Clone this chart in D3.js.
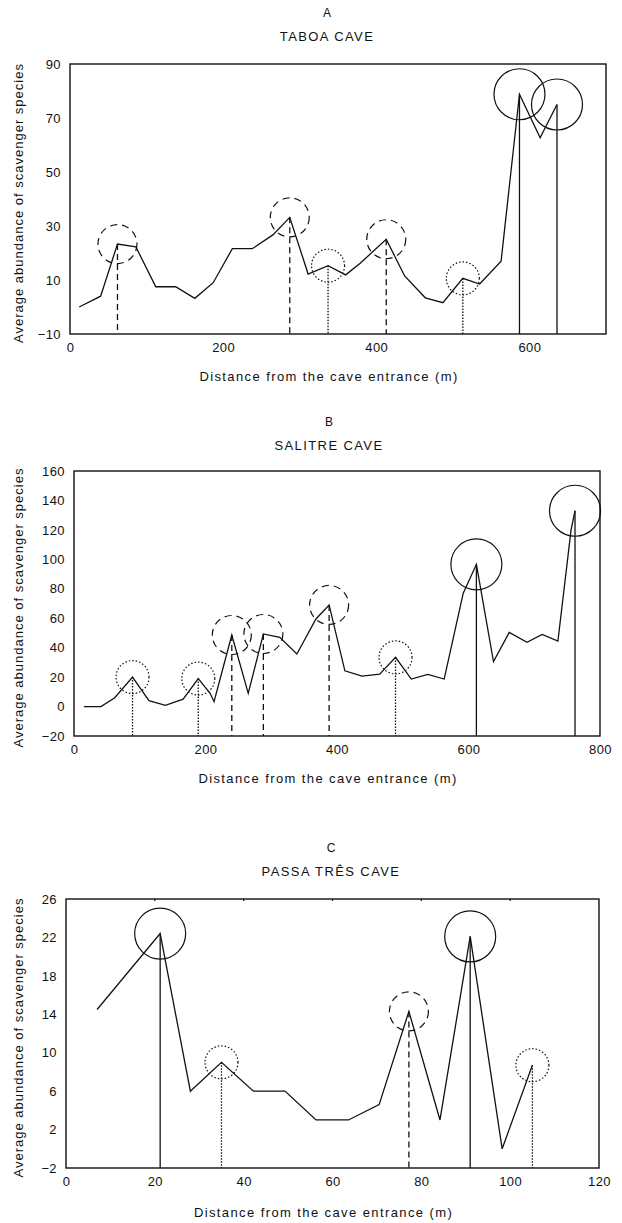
<!DOCTYPE html>
<html>
<head>
<meta charset="utf-8">
<script src="https://cdn.jsdelivr.net/npm/d3@7"></script>
<style>
  body { margin: 0; background: #fff; }
  text { font-family: "Liberation Sans", Arial, sans-serif; fill: #111; }
</style>
</head>
<body>
<div id="graph"></div>
<script>
// A - Taboa cave
var taboaDist   = [12, 40, 62, 86, 112, 138, 163, 187, 212, 238, 265, 287, 311, 337, 360, 379, 413, 437, 464, 487, 513, 535, 563, 587, 614, 636];
var taboaAbund  = [0, 4, 23.3, 22.3, 7.5, 7.5, 3.2, 9, 21.6, 21.6, 26.7, 33.2, 12.2, 15.3, 11.9, 16.2, 25.1, 11.5, 3.4, 1.6, 10.6, 8.5, 17, 78.8, 62.7, 75];
var taboaPeaks  = [62, 287, 337, 413, 513, 587, 636];
var taboaKinds  = ["dashed", "dashed", "dotted", "dashed", "dotted", "solid", "solid"];
var taboaXTicks = [0, 200, 400, 600];
var taboaYTicks = [-10, 10, 30, 50, 70, 90];

// B - Salitre cave
var salitreDist   = [15, 41, 62, 89, 114, 139, 166, 189, 207, 213, 240, 265, 288, 313, 339, 368, 388, 412, 438, 465, 489, 513, 538, 563, 592, 612, 638, 662, 689, 712, 736, 756, 762];
var salitreAbund  = [0, 0, 6, 20, 4, 0.8, 5, 19, 9, 3.3, 48.6, 9, 49.3, 47, 35.7, 59.5, 69, 24.3, 20.7, 22, 33.4, 18.7, 21.8, 18.7, 77, 96.6, 30.5, 50.4, 43.6, 49, 44.5, 120, 133];
var salitrePeaks  = [89, 189, 240, 288, 388, 489, 612, 762];
var salitreKinds  = ["dotted", "dotted", "dashed", "dashed", "dashed", "dotted", "solid", "solid"];
var salitreXTicks = [0, 200, 400, 600, 800];
var salitreYTicks = [-20, 0, 20, 40, 60, 80, 100, 120, 140, 160];

// C - Passa Três cave
var passaDist   = [7, 21.2, 28, 35, 42.2, 49.3, 56.3, 63.6, 70.5, 77.2, 84.2, 91, 98.2, 105];
var passaAbund  = [14.5, 22.4, 6, 9, 6, 6, 3, 3, 4.6, 14.3, 3, 22.1, 0, 8.7];
var passaPeaks  = [21.2, 35, 77.2, 91, 105];
var passaKinds  = ["solid", "dotted", "dashed", "solid", "dotted"];
var passaXTicks = [0, 20, 40, 60, 80, 100, 120];
var passaYTicks = [-2, 2, 6, 10, 14, 18, 22, 26];

var yLabel = "Average abundance of scavenger species";
var xLabel = "Distance from the cave entrance (m)";

var panels = [
  { letter: "A", title: "TABOA CAVE", dist: taboaDist, abund: taboaAbund, peaks: taboaPeaks, kinds: taboaKinds,
    xTicks: taboaXTicks, yTicks: taboaYTicks, xMax: 700, yMin: -10, yMax: 90,
    left: 70, right: 606, top: 64, bottom: 334, titleX: 327, letterY: 17, titleY: 41, xLabY: 381, topTicks: false },
  { letter: "B", title: "SALITRE CAVE", dist: salitreDist, abund: salitreAbund, peaks: salitrePeaks, kinds: salitreKinds,
    xTicks: salitreXTicks, yTicks: salitreYTicks, xMax: 800, yMin: -20, yMax: 160,
    left: 74, right: 600, top: 471, bottom: 736, titleX: 329, letterY: 426, titleY: 450, xLabY: 783, topTicks: false },
  { letter: "C", title: "PASSA TRÊS CAVE", dist: passaDist, abund: passaAbund, peaks: passaPeaks, kinds: passaKinds,
    xTicks: passaXTicks, yTicks: passaYTicks, xMax: 120, yMin: -2, yMax: 26,
    left: 66, right: 599, top: 899, bottom: 1168, titleX: 331, letterY: 852, titleY: 876, xLabY: 1217, topTicks: true }
];

var dashes = { solid: null, dashed: "6,4", dotted: "1.5,1.5" };
var circleDash = { solid: null, dashed: "7,5", dotted: "1.5,2" };
var radius = { solid: 25.5, dashed: 19.5, dotted: 16.5 };

var vis = d3.select("#graph").append("svg")
  .attr("width", 622)
  .attr("height", 1223);

panels.forEach(function(p) {
  var x = d3.scaleLinear().domain([0, p.xMax]).range([p.left, p.right]);
  var y = d3.scaleLinear().domain([p.yMin, p.yMax]).range([p.bottom, p.top]);
  var g = vis.append("g");

  // titles
  g.append("text").attr("x", p.titleX).attr("y", p.letterY)
    .attr("text-anchor", "middle").style("font-size", "12px").text(p.letter);
  g.append("text").attr("x", p.titleX).attr("y", p.titleY)
    .attr("text-anchor", "middle").style("font-size", "13px").style("letter-spacing", "1.4px").text(p.title);

  // axes (labels only, frame drawn separately)
  var xa = g.append("g").attr("transform", "translate(0," + p.bottom + ")")
    .call(d3.axisBottom(x).tickValues(p.xTicks).tickSize(0).tickPadding(9));
  var ya = g.append("g").attr("transform", "translate(" + p.left + ",0)")
    .call(d3.axisLeft(y).tickValues(p.yTicks).tickSize(0).tickPadding(9));
  [xa, ya].forEach(function(a) {
    a.select(".domain").remove();
    a.selectAll("text").style("font-size", "13px").style("letter-spacing", "0.4px")
      .style("font-family", '"Liberation Sans", Arial, sans-serif').attr("fill", "#111");
  });

  if (p.topTicks) {
    g.selectAll(".topTick").data(p.xTicks.slice(1, -1)).enter().append("line")
      .attr("x1", function(d) { return x(d); }).attr("x2", function(d) { return x(d); })
      .attr("y1", p.top).attr("y2", p.top + 2)
      .style("stroke", "#111").style("stroke-width", 1.2);
  }

  // axis titles
  g.append("text").attr("x", (p.left + p.right) / 2 - 9).attr("y", p.xLabY)
    .attr("text-anchor", "middle").style("font-size", "13px").style("letter-spacing", "1.4px").text(xLabel);
  g.append("text")
    .attr("transform", "translate(23," + ((p.top + p.bottom) / 2 + 4) + ") rotate(-90)")
    .attr("text-anchor", "middle").style("font-size", "13px").style("letter-spacing", "1px").text(yLabel);

  // peak drop lines and circles
  var peaks = p.peaks.map(function(d, i) {
    return { x: d, y: p.abund[p.dist.indexOf(d)], kind: p.kinds[i] };
  });

  g.selectAll(".drop").data(peaks).enter().append("line")
    .attr("x1", function(d) { return x(d.x); })
    .attr("x2", function(d) { return x(d.x); })
    .attr("y1", function(d) { return y(d.y); })
    .attr("y2", y(p.yMin))
    .style("stroke", "#111").style("stroke-width", 1.3)
    .style("stroke-dasharray", function(d) { return dashes[d.kind]; });

  g.selectAll(".ring").data(peaks).enter().append("circle")
    .attr("cx", function(d) { return x(d.x); })
    .attr("cy", function(d) { return y(d.y); })
    .attr("r", function(d) { return radius[d.kind]; })
    .style("fill", "none").style("stroke", "#111").style("stroke-width", 1.2)
    .style("stroke-dasharray", function(d) { return circleDash[d.kind]; });

  // abundance line
  var line = d3.line()
    .x(function(d, i) { return x(p.dist[i]); })
    .y(function(d) { return y(d); });
  g.append("path").datum(p.abund)
    .attr("d", line)
    .style("fill", "none").style("stroke", "#111").style("stroke-width", 1.3);

  // frame
  g.append("rect").attr("x", p.left).attr("y", p.top)
    .attr("width", p.right - p.left).attr("height", p.bottom - p.top)
    .style("fill", "none").style("stroke", "#111").style("stroke-width", 1.4);
});
</script>
</body>
</html>
